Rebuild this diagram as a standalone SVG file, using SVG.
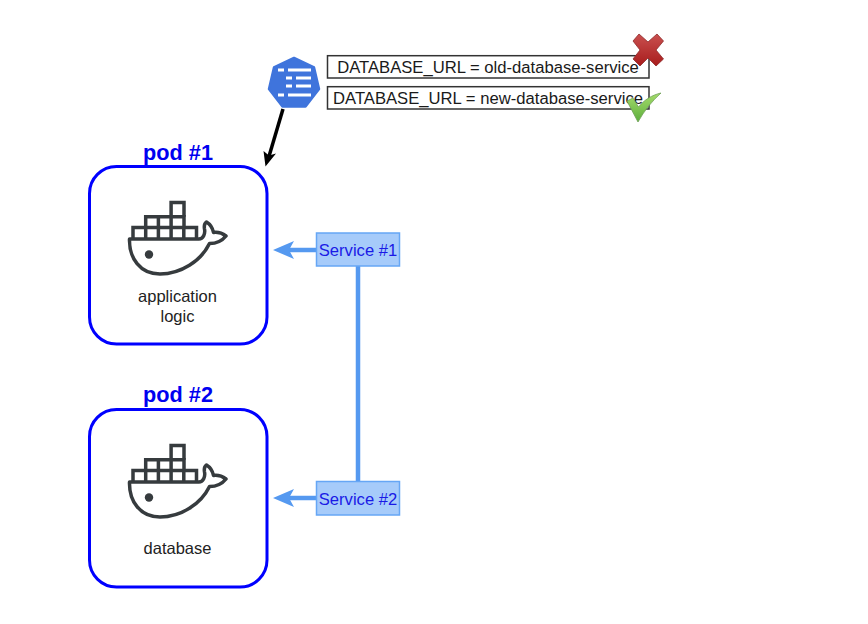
<svg xmlns="http://www.w3.org/2000/svg" xmlns:xlink="http://www.w3.org/1999/xlink" width="868" height="624" viewBox="0 0 868 624">
<style>
text{font-family:"Liberation Sans",Arial,sans-serif}
.pod{fill:#fff;stroke:#0000ff;stroke-width:3}
.podt{font-size:21.7px;font-weight:700;fill:#0000f0;text-anchor:middle}
.lbl{font-size:16.500px;fill:#222;text-anchor:middle}
.env{fill:#fff;stroke:#333;stroke-width:1.5}
.envt{font-size:16.650px;fill:#1a1a1a;text-anchor:middle}
.svc{fill:#a6cbfa;stroke:#66a6f5;stroke-width:1.5}
.svct{font-size:16.600px;fill:#1a1ae6;text-anchor:middle}
.blue{fill:none;stroke:#5599f0;stroke-width:4.500}
.cell{fill:none;stroke:#363b3e;stroke-width:3.500}
</style>
<defs>
<linearGradient id="red" x1="0" y1="0" x2="0" y2="1"><stop offset="0" stop-color="#c9504f"/><stop offset="1" stop-color="#a81c1c"/></linearGradient>
<linearGradient id="green" x1="0" y1="0" x2="0" y2="1"><stop offset="0" stop-color="#a6dc6c"/><stop offset="1" stop-color="#5cae3c"/></linearGradient>
<g id="whale">
<path class="cell" d="M133 238V227.500H196.500V238M145.700 227.500V238M158.400 227.500V238M171.100 227.500V238M183.800 227.500V238"/>
<path class="cell" d="M145.700 227.500V216.700H184V227.500M158.400 216.700V227.500M171.100 216.700V227.500"/>
<path class="cell" d="M171.100 216.700V202.500H184V216.700"/>
<path class="cell" stroke-linejoin="round" d="M129.500 239H199C203 239 205.500 234 204.500 229C204 226 205 223 206.500 222C209 223.500 212.500 227.500 213.500 232.500C217 232 222 233 226 236C222 241 216 243.500 209.500 243.500C201 261 181 274 160 274C140 274 129 258 129.500 239Z"/>
<circle cx="149" cy="254.500" r="4.200" fill="#363b3e"/>
</g>
</defs>

<g id="connectors">
<path d="M283 109L268.500 158" fill="none" stroke="#000" stroke-width="3.500"/>
<path d="M265.500 166.500L263.500 151L269 155.500L276 153.500Z" fill="#000"/>
<path class="blue" d="M358 266V482"/>
<path class="blue" d="M316 250H284"/>
<path d="M273 250L294 241L289 250L294 259Z" fill="#5599f0"/>
<path class="blue" d="M316 498H284"/>
<path d="M273 498L294 489L289 498L294 507Z" fill="#5599f0"/>
</g>

<g id="pod1">
<rect class="pod" x="89.500" y="166.500" width="177.500" height="177.500" rx="27"/>
<text class="podt" x="178" y="159.500">pod #1</text>
<use href="#whale" xlink:href="#whale"/>
<text class="lbl" x="177.500" y="301.500">application</text>
<text class="lbl" x="177.500" y="321.500">logic</text>
</g>

<g id="pod2">
<rect class="pod" x="89.500" y="409.500" width="177.500" height="177.500" rx="27"/>
<text class="podt" x="178" y="401.500">pod #2</text>
<use href="#whale" xlink:href="#whale" y="243"/>
<text class="lbl" x="177.500" y="554">database</text>
</g>

<g id="service1">
<rect class="svc" x="316.500" y="233" width="83" height="33"/>
<text class="svct" x="358" y="256">Service #1</text>
</g>
<g id="service2">
<rect class="svc" x="316.500" y="481.500" width="83" height="33.500"/>
<text class="svct" x="358" y="504.500">Service #2</text>
</g>

<g id="configmap">
<path d="M294 58L314 67.500L319 89L305.500 106.500H282.500L269 89L274 67.500Z" fill="#3f74dc" stroke="#3f74dc" stroke-width="2.500" stroke-linejoin="round"/>
<path d="M278 70H284M288 70H311M286 78H292M296 78H311M286 86H292M296 86H311M278 95H284M288 95H311" stroke="#fff" stroke-width="3" fill="none"/>
</g>

<g id="env-old">
<rect class="env" x="327.500" y="55.700" width="321.500" height="22.300"/>
<text class="envt" x="488" y="73">DATABASE_URL = old-database-service</text>
</g>
<g id="env-new">
<rect class="env" x="327.500" y="86.700" width="321.500" height="22.300"/>
<text class="envt" x="488" y="104">DATABASE_URL = new-database-service</text>
</g>

<g id="cross">
<path d="M639 34L648 42L657 34L663.500 41L656 50L663.500 59L656 66L648 58L640 66L633 59L640 50L633 41Z" fill="url(#red)" stroke="#8e2a2a" stroke-width="0.800" stroke-linejoin="round"/>
</g>
<g id="check">
<path d="M627 101L633 98L638.500 107C644 100 652 95 661 93C652 101 644 111 638 122Z" fill="url(#green)" stroke="#6f9f55" stroke-width="0.800" stroke-linejoin="round"/>
</g>
</svg>
